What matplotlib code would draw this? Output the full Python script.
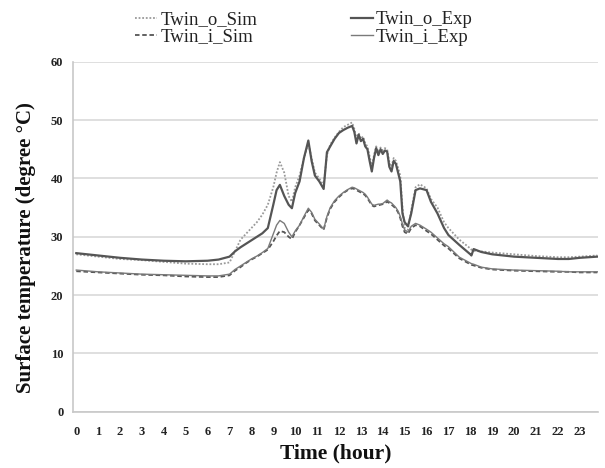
import numpy as np
import matplotlib.pyplot as plt

# time in hours (uneven steps, finer where the curves move fast)
hours = [0, 1, 2, 3, 4, 5, 6, 6.5, 7, 7.25, 7.5, 7.75, 8, 8.25, 8.5, 8.75,
         9.0, 9.15, 9.3, 9.5, 9.7, 9.85, 10.0, 10.2, 10.4, 10.6, 10.75, 10.9,
         11.1, 11.3, 11.45, 11.6, 11.8, 12.0, 12.2, 12.4, 12.6, 12.7, 12.8,
         12.9, 13.0, 13.1, 13.2, 13.3, 13.4, 13.5, 13.6, 13.7, 13.8, 13.9,
         14.0, 14.1, 14.2, 14.3, 14.4, 14.5, 14.6, 14.7, 14.8, 14.9, 15.0,
         15.15, 15.3, 15.5, 15.7, 16.0, 16.2, 16.5, 16.8, 17.0, 17.5, 18.0,
         18.05, 18.15, 18.5, 19, 20, 21, 22, 22.5, 23, 23.8]

twin_o_exp = [27.2, 26.8, 26.4, 26.1, 25.9, 25.8, 25.9, 26.1, 26.6, 27.5, 28.2, 28.8, 29.4, 30.0, 30.6, 31.5,
              35.5, 38.0, 38.9, 37.0, 35.5, 34.9, 37.5, 39.5, 43.5, 46.5, 43.0, 40.5,
              39.5, 38.2, 44.5, 45.5, 46.8, 47.8, 48.3, 48.7, 49.0, 48.0, 46.0,
              47.5, 46.4, 46.8, 45.5, 45.0, 43.0, 41.2, 43.5, 45.2, 44.0, 45.0,
              44.2, 44.8, 44.6, 42.0, 41.2, 43.0, 42.5, 41.0, 39.5, 34.0, 32.5,
              31.8, 34.0, 38.0, 38.3, 38.0, 36.0, 34.0, 31.5, 30.3, 28.6, 27.0,
              26.8, 27.9, 27.4, 27.0, 26.6, 26.4, 26.2, 26.2, 26.4, 26.6]

twin_o_sim = [27.0, 26.6, 26.2, 26.0, 25.7, 25.4, 25.3, 25.3, 25.6, 27.5, 29.5, 30.5, 31.5, 32.5, 33.8, 35.5,
              38.5, 41.0, 42.8, 41.0, 37.0, 36.0, 38.5, 40.5, 43.5, 46.0, 43.5, 41.0,
              40.0, 38.8, 44.0, 45.8, 47.0, 48.0, 48.8, 49.2, 49.6, 48.5, 46.8,
              47.8, 46.8, 47.2, 46.0, 45.5, 43.8, 42.0, 44.0, 45.5, 44.5, 45.3,
              44.8, 45.2, 45.0, 42.8, 42.0, 43.5, 43.0, 41.8, 40.5, 35.0, 31.5,
              31.2, 34.5, 38.5, 39.0, 38.3, 36.5, 35.0, 32.5, 31.5, 29.5, 28.0,
              27.8, 27.6, 27.5, 27.3, 27.0, 26.7, 26.5, 26.5, 26.6, 26.8]

twin_i_exp = [24.3, 24.0, 23.8, 23.6, 23.5, 23.4, 23.3, 23.3, 23.6, 24.4, 25.0, 25.6, 26.2, 26.7, 27.3, 28.0,
              30.5, 32.0, 32.8, 32.3, 30.8, 30.0, 31.0, 32.0, 33.5, 34.9, 34.2, 33.0,
              32.2, 31.3, 33.5, 35.0, 36.2, 37.0, 37.6, 38.1, 38.5, 38.4, 38.2,
              38.0, 37.8, 37.6, 37.3, 36.8, 36.2, 35.6, 35.4, 35.5, 35.6, 35.6,
              35.7, 36.0, 36.3, 36.0, 35.8, 35.4, 35.0, 34.4, 33.5, 32.2, 31.2,
              30.8, 31.8, 32.3, 32.0, 31.3, 30.8, 29.8, 28.8, 28.3, 26.5, 25.5,
              25.4, 25.3, 24.8, 24.5, 24.3, 24.2, 24.1, 24.0, 24.0, 24.0]

twin_i_sim = [24.1, 23.9, 23.7, 23.5, 23.4, 23.2, 23.1, 23.1, 23.4, 24.2, 24.8, 25.5, 26.1, 26.6, 27.2, 27.8,
              29.2, 30.2, 31.0, 30.8, 30.0, 29.6, 30.8, 32.0, 33.3, 34.6, 34.0, 32.8,
              32.0, 31.2, 33.3, 34.8, 36.0, 36.8, 37.5, 38.0, 38.3, 38.2, 38.0,
              37.8, 37.6, 37.4, 37.1, 36.6, 36.0, 35.4, 35.2, 35.3, 35.4, 35.5,
              35.6, 35.8, 36.0, 35.8, 35.5, 35.2, 34.8, 34.2, 33.2, 31.8, 30.8,
              30.5, 31.5, 32.0, 31.8, 31.0, 30.5, 29.5, 28.5, 28.0, 26.3, 25.3,
              25.2, 25.1, 24.7, 24.4, 24.2, 24.1, 24.0, 24.0, 23.9, 23.9]

x_ticks = list(range(24))
y_ticks = [0, 10, 20, 30, 40, 50, 60]

plt.rcParams['font.family'] = ['Liberation Serif', 'DejaVu Serif']

fig = plt.figure(figsize=(6.05, 4.68), dpi=100)
ax = fig.add_axes([0.121, 0.12, 0.867, 0.748])

l1, = ax.plot(hours, twin_o_sim, color='#9a9a9a', lw=1.3, ls=(0, (1, 1)))
l3, = ax.plot(hours, twin_o_exp, color='#555555', lw=1.6, ls='-')
l2, = ax.plot(hours, twin_i_sim, color='#555555', lw=1.3, ls=(0, (2.5, 1.5)))
l4, = ax.plot(hours, twin_i_exp, color='#7a7a7a', lw=1.0, ls='-')

ax.set_xlim(-0.14, 23.82)
ax.set_ylim(0, 60)
ax.set_xticks(x_ticks)
ax.set_yticks(y_ticks)
ax.tick_params(length=0, labelsize=9, colors='#222222')
ax.tick_params(axis='x', pad=10)
ax.tick_params(axis='y', pad=7)
for lab in ax.get_xticklabels() + ax.get_yticklabels():
    lab.set_fontweight('bold')
ax.grid(axis='y', color='#d9d9d9', lw=1.2)
ax.set_axisbelow(True)
for s in ['top', 'right']:
    ax.spines[s].set_visible(False)
for s in ['left', 'bottom']:
    ax.spines[s].set_color('#c8c8c8')
    ax.spines[s].set_linewidth(1.2)

ax.set_xlabel('Time (hour)', fontsize=15.5, fontweight='bold', labelpad=4, color='#111111')
ax.set_ylabel('Surface temperature (degree \u00b0C)', fontsize=15, fontweight='bold',
              color='#111111')
ax.yaxis.set_label_coords(-0.07, 0.47)

fig.legend([l1, l2, l3, l4], ['Twin_o_Sim', 'Twin_i_Sim', 'Twin_o_Exp', 'Twin_i_Exp'],
           ncol=2, frameon=False, fontsize=13.5, loc='upper left',
           bbox_to_anchor=(0.195, 1.012), handlelength=1.2, handletextpad=0.15,
           labelspacing=0.0, columnspacing=5.0, labelcolor='#222222')

fig.savefig('out.png', dpi=100)
